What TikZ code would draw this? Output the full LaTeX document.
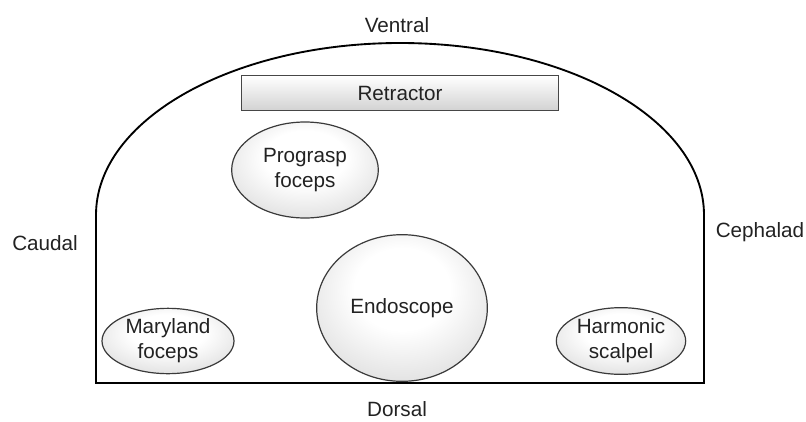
\documentclass[tikz,border=0pt]{standalone}
\usepackage{fontspec}
\setmainfont{Liberation Sans}
\usepackage{tikz}
\usetikzlibrary{shapes.geometric}

\definecolor{inkgray}{HTML}{222222}
\definecolor{rimgray}{HTML}{3A3A3A}
\pgfdeclareradialshading{toolshade}{\pgfpoint{0bp}{8bp}}%
  {color(0bp)=(white); color(14bp)=(white); color(34bp)=(gray!28); color(50bp)=(gray!48); color(70bp)=(gray!60)}

\begin{document}
\begin{tikzpicture}
  [x=0.75pt,y=-0.75pt,
   every node/.style={font=\fontsize{15.5pt}{18.8pt}\selectfont,text=inkgray,align=center},
   tool/.style={ellipse,draw=rimgray,line width=0.9pt,inner sep=0pt,shading=toolshade},
   bar/.style={rectangle,draw=gray!55!black,line width=1.1pt,inner sep=0pt,
     minimum width=238pt,minimum height=26pt,top color=white,bottom color=gray!35},
   side/.style={inner sep=0pt}]
  \useasboundingbox (0,0) rectangle (806,421);

  % outer outline
  \draw[line width=1.4pt] (96,383) -- (96,215)
    arc[start angle=180,end angle=360,x radius=304,y radius=172] -- (704,383) -- cycle;

  \node[bar] (retractor) at (400,93) {Retractor};
  \node[tool,minimum width=110pt,minimum height=72pt] (prograsp) at (305,170) {Prograsp\\foceps};
  \node[tool,minimum width=128pt,minimum height=110pt] (endoscope) at (402,308) {Endoscope};
  \node[tool,minimum width=99pt,minimum height=49pt] (maryland) at (168,341) {Maryland\\foceps};
  \node[tool,minimum width=97pt,minimum height=50pt] (harmonic) at (621,341) {Harmonic\\scalpel};

  \node[side] (ventral) at (397,25) {Ventral};
  \node[side] (dorsal) at (397,409) {Dorsal};
  \node[side] (caudal) at (45,243) {Caudal};
  \node[side] (cephalad) at (760,232) {Cephalad};
\end{tikzpicture}
\end{document}
